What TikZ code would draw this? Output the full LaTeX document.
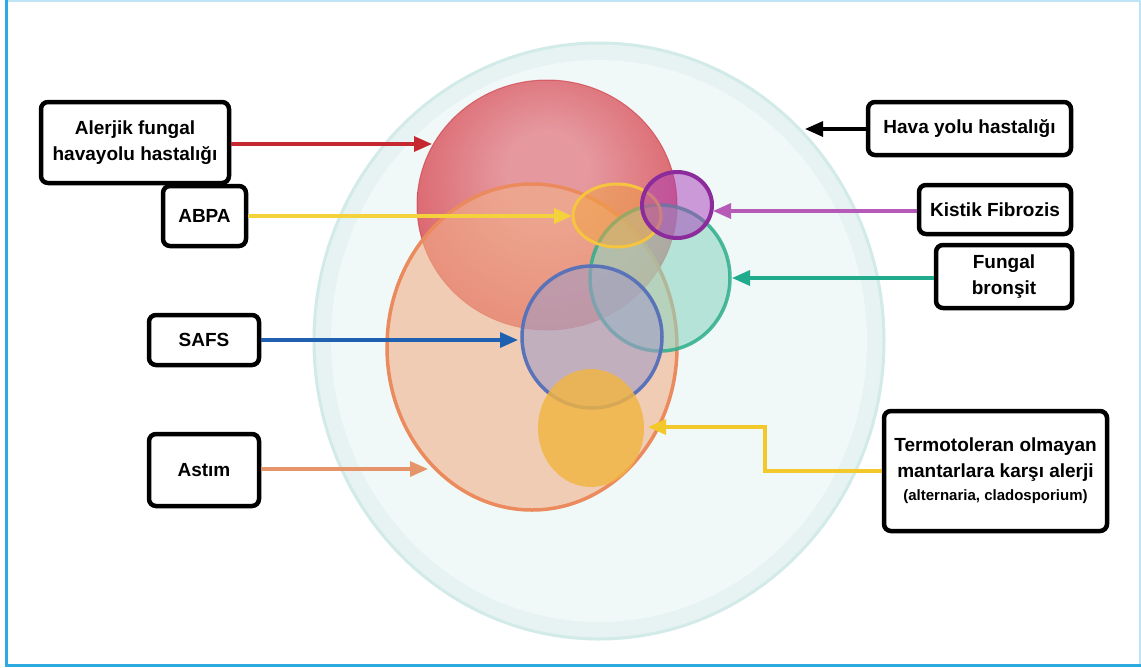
\documentclass[tikz,border=0pt]{standalone}
\usepackage{fontspec}
\setmainfont{Liberation Sans}
\usetikzlibrary{arrows.meta}
\definecolor{frameblue}{HTML}{2EAAE2}
\definecolor{framelight}{HTML}{BFE4F5}
\definecolor{palefill}{HTML}{E6F3F2}
\definecolor{paleinner}{HTML}{F0F8F8}
\definecolor{paleline}{HTML}{D2EBE8}
\definecolor{redlight}{HTML}{E5989E}
\definecolor{redmid}{HTML}{DB646C}
\definecolor{reddark}{HTML}{CF3640}
\definecolor{redline}{HTML}{CC3540}
\definecolor{orangefill}{HTML}{F2B088}
\definecolor{orangeline}{HTML}{EB8A5C}
\definecolor{tealfill}{HTML}{8FD6C3}
\definecolor{tealline}{HTML}{2FAE8C}
\definecolor{bluefill}{HTML}{A39CC4}
\definecolor{blueline}{HTML}{5A72B8}
\definecolor{abpafill}{HTML}{F2A33F}
\definecolor{abpaline}{HTML}{F5C540}
\definecolor{purplefill}{HTML}{A83CB8}
\definecolor{purpleline}{HTML}{8C2C9C}
\definecolor{termofill}{HTML}{F2B541}
\definecolor{arrred}{HTML}{C62830}
\definecolor{arryellow}{HTML}{F4D23C}
\definecolor{arrpurple}{HTML}{B65AB8}
\definecolor{arrteal}{HTML}{1FAB8C}
\definecolor{arrblue}{HTML}{2060B0}
\definecolor{arrorange}{HTML}{E6956A}
\definecolor{arrtermo}{HTML}{F2C82A}
\pgfdeclareradialshading{redsphere}{\pgfpoint{0bp}{8bp}}{color(0bp)=(redlight); color(8bp)=(redlight); color(28bp)=(redmid); color(42bp)=(reddark); color(56bp)=(reddark)}
\begin{document}
\begin{tikzpicture}[x=1pt,y=-1pt,
  box/.style={draw=black, line width=4.5pt, rounded corners=7pt, fill=white,
    font=\bfseries\fontsize{19}{26}\selectfont, align=center, inner sep=0pt},
  conn/.style={line width=3.2pt, -{Triangle[length=18pt,width=15pt]}},
  blob/.style={line width=3.5pt}
]
\useasboundingbox (0,0) rectangle (1141,667);
\fill[white] (0,0) rectangle (1141,667);
% frame
\draw[line width=1.5pt, framelight] (6,0.75) -- (1140.2,0.75) -- (1140.2,665);
\draw[line width=3pt, frameblue] (6.5,0) -- (6.5,665.5) -- (1141,665.5);

% big pale circle (airway disease)
\filldraw[fill=palefill, draw=paleline, line width=3pt] (599,341) ellipse [x radius=285, y radius=298];
\fill[paleinner] (599,341) ellipse [x radius=268, y radius=281];

% red sphere
\shade[shading=redsphere] (547,205) ellipse [x radius=130, y radius=125];
\draw[redline, line width=1pt, draw opacity=0.6] (547,205) ellipse [x radius=130, y radius=125];

% orange ellipse (asthma)
\filldraw[blob, fill=orangefill, fill opacity=0.6, draw=orangeline] (532,347) ellipse [x radius=145, y radius=163];

% teal circle (fungal bronchitis)
\filldraw[blob, fill=tealfill, fill opacity=0.6, draw=tealline, draw opacity=0.85] (660,278) ellipse [x radius=70, y radius=73];

% blue circle (SAFS)
\filldraw[blob, fill=bluefill, fill opacity=0.6, draw=blueline] (592,337) ellipse [x radius=70, y radius=71];

% ABPA ellipse
\filldraw[line width=3pt, fill=abpafill, fill opacity=0.5, draw=abpaline] (617,215.5) ellipse [x radius=44, y radius=31.5];

% purple circle (CF)
\filldraw[line width=4pt, fill=purplefill, fill opacity=0.5, draw=purpleline] (677,205) ellipse [x radius=35, y radius=33];

% non-thermotolerant fungi ellipse
\fill[termofill, opacity=0.82] (591,428) ellipse [x radius=53, y radius=59];

% boxes
\node[box, minimum width=188pt, minimum height=81pt] (alerjik) at (135,142.5) {Alerjik fungal\\havayolu hastalığı};
\node[box, minimum width=83pt, minimum height=60pt] (abpa) at (204.5,216) {ABPA};
\node[box, minimum width=203pt, minimum height=53pt] (hava) at (969.5,128.5) {Hava yolu hastalığı};
\node[box, minimum width=152pt, minimum height=49pt] (kistik) at (995,209.5) {Kistik Fibrozis};
\node[box, minimum width=136pt, minimum height=63pt] (fungal) at (1004,276.5) {Fungal\\bronşit};
\node[box, minimum width=110pt, minimum height=50pt] (safs) at (204,340) {SAFS};
\node[box, minimum width=110pt, minimum height=72pt] (astim) at (204,470) {Astım};
\node[box, minimum width=223pt, minimum height=120pt] (termo) at (995.5,471)
  {Termotoleran olmayan\\mantarlara karşı alerji\\[-3pt]{\fontsize{15}{18}\selectfont(alternaria, cladosporium)}};

% connector end points
\coordinate (redtip) at (432,144);
\coordinate (abpatip) at (572,216);
\coordinate (havatip) at (805,129);
\coordinate (kistiktip) at (713,211);
\coordinate (fungaltip) at (732,278);
\coordinate (safstip) at (518,340);
\coordinate (astimtip) at (428,469);
\coordinate (termobend) at (765,427);
\coordinate (termotip) at (648,427);

% connectors
\draw[conn, arrred] (alerjik.east |- redtip) -- (redtip);
\draw[conn, arryellow] (abpa.east |- abpatip) -- (abpatip);
\draw[conn, black] (hava.west |- havatip) -- (havatip);
\draw[conn, arrpurple] (kistik.west |- kistiktip) -- (kistiktip);
\draw[conn, arrteal] (fungal.west |- fungaltip) -- (fungaltip);
\draw[conn, arrblue] (safs.east |- safstip) -- (safstip);
\draw[conn, arrorange] (astim.east |- astimtip) -- (astimtip);
\draw[conn, arrtermo] (termo.west) -- (termo.west -| termobend) -- (termobend) -- (termotip);
\end{tikzpicture}
\end{document}
